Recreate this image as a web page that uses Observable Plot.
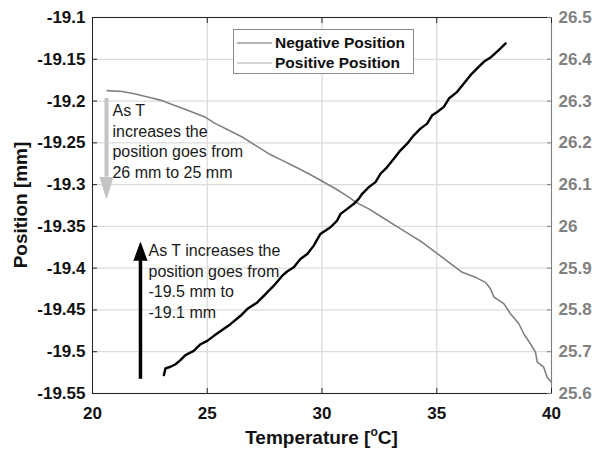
<!DOCTYPE html>
<html><head><meta charset="utf-8">
<script src="https://cdn.jsdelivr.net/npm/d3@7"></script>
<script src="https://cdn.jsdelivr.net/npm/@observablehq/plot@0.6"></script>
<style>html,body{margin:0;padding:0;background:#fff;}</style>
</head><body><div id="chart"></div>
<script>
// Negative Position (left axis, black)
const negT = [23.11,23.18,23.40,23.62,23.83,24.05,24.41,24.71,25.00,25.29,25.65,26.01,26.45,26.74,27.18,27.54,27.90,28.27,28.48,28.77,29.06,29.36,29.64,29.93,30.37,30.66,30.81,31.10,31.39,31.60,31.75,32.04,32.33,32.55,32.84,33.13,33.42,33.71,34.00,34.29,34.58,34.80,35.02,35.31,35.53,35.89,36.18,36.47,36.76,37.05,37.34,37.70,38.00];
const negPos = [-19.528,-19.520,-19.518,-19.515,-19.510,-19.504,-19.499,-19.491,-19.487,-19.481,-19.474,-19.467,-19.457,-19.449,-19.441,-19.431,-19.421,-19.409,-19.404,-19.399,-19.389,-19.383,-19.373,-19.359,-19.351,-19.343,-19.335,-19.329,-19.323,-19.317,-19.311,-19.303,-19.297,-19.287,-19.279,-19.269,-19.259,-19.251,-19.241,-19.233,-19.227,-19.217,-19.213,-19.207,-19.197,-19.189,-19.179,-19.169,-19.161,-19.153,-19.148,-19.139,-19.131];
// Positive Position (right axis, gray)
const posT = [20.64,21.29,21.87,22.45,23.04,23.62,24.20,24.92,25.36,25.94,26.52,27.10,27.68,28.27,28.85,29.42,30.01,30.59,31.17,31.46,32.04,32.62,33.20,33.78,34.37,34.95,35.53,36.11,36.69,37.12,37.34,37.49,37.92,38.21,38.58,38.79,39.08,39.30,39.38,39.66,39.81,40.00];
const posPos = [26.325,26.323,26.317,26.309,26.301,26.289,26.277,26.261,26.246,26.230,26.214,26.194,26.174,26.158,26.142,26.126,26.108,26.090,26.070,26.058,26.042,26.022,26.002,25.982,25.962,25.938,25.914,25.890,25.878,25.866,25.851,25.831,25.815,25.791,25.767,25.743,25.719,25.699,25.675,25.663,25.639,25.627];

const xTicks = [20,25,30,35,40];
const leftTicks = [-19.55,-19.5,-19.45,-19.4,-19.35,-19.3,-19.25,-19.2,-19.15,-19.1];
const rightTicks = [25.6,25.7,25.8,25.9,26,26.1,26.2,26.3,26.4,26.5];
const seriesNames = ["Negative Position","Positive Position"];
const xTitle = ["Temperature [","o","C]"];
const yTitle = "Position [mm]";

// annotations (data units, left axis)
const noteTexts = ["As T\nincreases the\nposition goes from\n26 mm to 25 mm","As T increases the\nposition goes from\n-19.5 mm to\n-19.1 mm"];
const noteT = [20.87,22.44];
const noteV = [-19.2005,-19.368];
const arrowT = [20.61,22.09];
const arrowFrom = [-19.197,-19.533];
const arrowBase = [-19.291,-19.391];

const leftDomain = [-19.55,-19.1], rightDomain = [25.6,26.5];
const k = (leftDomain[1]-leftDomain[0])/(rightDomain[1]-rightDomain[0]);
const toLeft = v => leftDomain[0] + (v - rightDomain[0]) * k;
const fromLeft = d => rightDomain[0] + (d - leftDomain[0]) / k;

const neg = negT.map((t,i)=>({t, v: negPos[i]}));
const pos = posT.map((t,i)=>({t, v: toLeft(posPos[i])}));
const fmt2 = d => String(Math.round(d*100)/100);
const fmt1 = d => String(Math.round(d*10)/10);

const grid = "#dcdcdc", dark = "#262626", gray = "#808080";
const F = "'Liberation Sans', Arial, sans-serif";

const plot = Plot.plot({
  width: 592, height: 452,
  marginLeft: 92, marginRight: 41, marginTop: 17, marginBottom: 59,
  style: {fontFamily: F, background: "#fff", color: "#000", overflow: "visible"},
  x: {domain: [20,40], label: null},
  y: {domain: leftDomain, label: null},
  marks: [
    Plot.ruleX(xTicks, {x: d => d, stroke: grid, strokeWidth: 1.3}),
    Plot.ruleY(leftTicks, {y: d => d, stroke: grid, strokeWidth: 1.3}),
    Plot.ruleY([leftDomain[1]], {stroke: dark}),
    Plot.ruleY([leftDomain[0]], {stroke: dark}),
    Plot.ruleX([20], {stroke: dark}),
    Plot.ruleX([40], {stroke: gray}),
    Plot.axisX(xTicks, {anchor: "bottom", tickSize: -5, tickPadding: 18, fontSize: 17, fontWeight: "bold", fill: "#111", stroke: dark, tickFormat: d => String(d), label: null}),
    Plot.axisX(xTicks, {anchor: "top", tickSize: -5, tickFormat: () => "", stroke: dark, label: null}),
    Plot.axisY(leftTicks, {anchor: "left", tickSize: -5, tickPadding: 12, fontSize: 17, fontWeight: "bold", fill: "#111", stroke: dark, tickFormat: fmt2, label: null}),
    Plot.axisY(rightTicks.map(toLeft), {anchor: "right", tickSize: -5, tickPadding: 12, fontSize: 17, fontWeight: "bold", fill: gray, stroke: gray, tickFormat: d => fmt1(fromLeft(d)), label: null}),
    Plot.line(pos, {x: "t", y: "v", stroke: gray, strokeWidth: 1.6}),
    Plot.line(neg, {x: "t", y: "v", stroke: "#000", strokeWidth: 2.4}),
    // gray arrow
    Plot.ruleX([0], {x: () => arrowT[0], y1: () => arrowFrom[0], y2: () => arrowBase[0], stroke: "#c4c4c4", strokeWidth: 4}),
    Plot.vector([0], {x: () => arrowT[0], y: () => arrowBase[0], length: 21, rotate: 180, anchor: "start", shape: "spike", r: 6.5, fill: "#c4c4c4", stroke: "#c4c4c4", strokeWidth: 1}),
    // black arrow
    Plot.ruleX([0], {x: () => arrowT[1], y1: () => arrowFrom[1], y2: () => arrowBase[1], stroke: "#000", strokeWidth: 3.5}),
    Plot.vector([0], {x: () => arrowT[1], y: () => arrowBase[1], length: 18, rotate: 0, anchor: "start", shape: "spike", r: 6.5, fill: "#000", stroke: "#000", strokeWidth: 1}),
    Plot.text(noteTexts, {x: (d,i) => noteT[i], y: (d,i) => noteV[i], text: d => d, textAnchor: "start", lineAnchor: "top", lineHeight: 1.29, fontSize: 16, fill: "#1a1a1a"})
  ]
});
document.getElementById("chart").appendChild(plot);

const svg = d3.select(plot);
svg.append("text")
  .attr("transform", "translate(27,205) rotate(-90)")
  .attr("text-anchor", "middle").attr("font-size", 19).attr("font-weight", "bold")
  .attr("font-family", F).attr("fill", "#111").text(yTitle);
const xt = svg.append("text").attr("x", 321.5).attr("y", 444)
  .attr("text-anchor", "middle").attr("font-size", 19).attr("font-weight", "bold")
  .attr("font-family", F).attr("fill", "#111");
xt.append("tspan").text(xTitle[0]);
xt.append("tspan").attr("font-size", 12).attr("dy", -8).text(xTitle[1]);
xt.append("tspan").attr("dy", 8).text(xTitle[2]);

// legend
const lg = svg.append("g");
lg.append("rect").attr("x", 233.5).attr("y", 29.5).attr("width", 180).attr("height", 44)
  .attr("fill", "#fff").attr("stroke", "#8a8a8a");
const legendColors = ["#666", "#aaa"];
seriesNames.forEach((name, i) => {
  const y = 43 + i * 20;
  lg.append("line").attr("x1", 237).attr("x2", 272).attr("y1", y).attr("y2", y)
    .attr("stroke", legendColors[i]).attr("stroke-width", 1.2);
  lg.append("text").attr("x", 275).attr("y", y).attr("dy", "0.35em")
    .attr("text-anchor", "start")
    .attr("font-size", 15.5).attr("font-weight", "bold").attr("font-family", F)
    .attr("fill", "#111").text(name);
});
</script>
</body></html>
